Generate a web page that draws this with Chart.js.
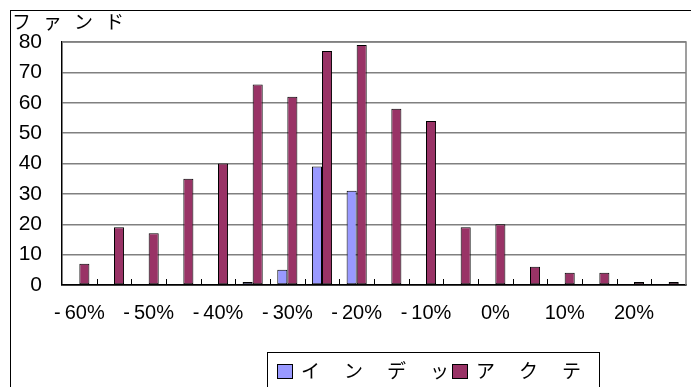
<!DOCTYPE html>
<html>
<head>
<meta charset="utf-8">
<script src="https://cdn.jsdelivr.net/npm/chart.js@4"></script>
<style>
    html, body { margin: 0; padding: 0; background: #fff; }
    #wrap { position: relative; width: 691px; height: 387px; }
    #frame { position: absolute; left: 10px; top: 10px; width: 700px; height: 400px; border: 1px solid #000; box-sizing: border-box; }
    canvas { position: absolute; left: 0; top: 0; }
</style>
</head>
<body>
<div id="wrap">
    <div id="frame"></div>
    <canvas id="fundChart" width="691" height="387"></canvas>
</div>
<script>
const categories = ['-60%', '-55%', '-50%', '-45%', '-40%', '-35%', '-30%', '-25%', '-20%',
    '-15%', '-10%', '-5%', '0%', '5%', '10%', '15%', '20%', '25%'];
const indexFunds = [0, 0, 0, 0, 0, 1, 5, 39, 31, 0, 0, 0, 0, 0, 0, 0, 0, 0];
const activeFunds = [7, 19, 17, 35, 40, 66, 62, 77, 79, 58, 54, 19, 20, 6, 4, 4, 1, 1];
const yTicks = [0, 10, 20, 30, 40, 50, 60, 70, 80];
const titleText = 'ファンド';
const seriesNames = ['インデッ', 'アクテ'];

const FONT = '"Liberation Sans", Arial, sans-serif';
const JP_FONT = '"Noto Sans CJK JP", sans-serif';

const framePlugin = {
    id: 'framePlugin',
    beforeDatasetsDraw(chart) {
        const {ctx, chartArea} = chart;
        ctx.save();
        ctx.strokeStyle = '#808080';
        ctx.lineWidth = 1.5;
        ctx.beginPath();
        ctx.moveTo(chartArea.left, chartArea.top);
        ctx.lineTo(chartArea.right, chartArea.top);
        ctx.lineTo(chartArea.right, chartArea.bottom);
        ctx.stroke();
        ctx.restore();
    },
    afterDraw(chart) {
        const {ctx, chartArea} = chart;
        const x = chart.scales.x;
        ctx.save();
        // tick marks between categories, pointing up into the plot
        ctx.strokeStyle = '#000';
        ctx.lineWidth = 1;
        for (let i = 1; i < categories.length; i++) {
            const px = Math.round((x.getPixelForValue(i - 1) + x.getPixelForValue(i)) / 2) + 0.5;
            ctx.beginPath();
            ctx.moveTo(px, chartArea.bottom);
            ctx.lineTo(px, chartArea.bottom - 6);
            ctx.stroke();
        }

        // title
        ctx.fillStyle = '#000';
        ctx.font = '19px ' + JP_FONT;
        ctx.textBaseline = 'top';
        ctx.letterSpacing = '12px';
        ctx.fillText(titleText, 12, 12);

        // legend with a frame
        ctx.letterSpacing = '24px';
        ctx.strokeStyle = '#000';
        ctx.lineWidth = 1;
        ctx.strokeRect(267.5, 352.5, 332, 60);
        let lx = 277;
        chart.data.datasets.forEach(ds => {
            ctx.fillStyle = ds.backgroundColor;
            ctx.fillRect(lx, 364, 15, 14);
            ctx.strokeRect(lx + 0.5, 364.5, 15, 14);
            ctx.fillStyle = '#000';
            ctx.textBaseline = 'middle';
            ctx.fillText(ds.label, lx + 24, 371);
            lx += 175;
        });
        ctx.restore();
    }
};

new Chart(document.getElementById('fundChart'), {
    type: 'bar',
    data: {
        labels: categories,
        datasets: [
            {
                label: seriesNames[0],
                data: indexFunds,
                backgroundColor: '#9999ff',
                borderColor: '#000',
                borderWidth: 1,
                borderSkipped: false
            },
            {
                label: seriesNames[1],
                data: activeFunds,
                backgroundColor: '#993366',
                borderColor: '#000',
                borderWidth: 1,
                borderSkipped: false
            }
        ]
    },
    options: {
        responsive: false,
        animation: false,
        devicePixelRatio: 1,
        categoryPercentage: 0.58,
        barPercentage: 1,
        layout: {padding: {left: 10, top: 42, right: 5, bottom: 0}},
        scales: {
            x: {
                grid: {display: false, drawTicks: false},
                border: {color: '#000', width: 1.5},
                ticks: {
                    autoSkip: false,
                    maxRotation: 0,
                    padding: 16,
                    color: '#000',
                    font: {family: FONT, size: 20},
                    callback: function (value, index) {
                        return index % 2 === 0 ? categories[index].replace('-', '-\u2009') : '';
                    }
                },
                afterFit: function (scale) { scale.height = 102; }
            },
            y: {
                min: 0,
                max: 80,
                afterBuildTicks: function (scale) {
                    scale.ticks = yTicks.map(v => ({value: v}));
                },
                grid: {
                    drawTicks: false,
                    lineWidth: 1.5,
                    color: ctx => ctx.tick && ctx.tick.value === 0 ? '#000' : '#808080'
                },
                border: {color: '#000', width: 1.5},
                ticks: {
                    padding: 20,
                    color: '#000',
                    font: {family: FONT, size: 21}
                },
                afterFit: function (scale) { scale.width = 52; }
            }
        },
        plugins: {
            legend: {display: false},
            tooltip: {enabled: false}
        }
    },
    plugins: [framePlugin]
});
</script>
</body>
</html>
